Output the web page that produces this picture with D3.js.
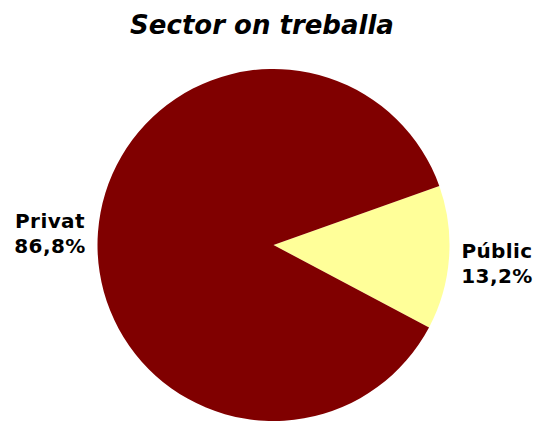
<!DOCTYPE html>
<html>
<head>
<meta charset="utf-8">
<script src="https://cdn.jsdelivr.net/npm/d3@7"></script>
<style>
  html, body { margin: 0; padding: 0; background: #fff; }
  svg { display: block; }
</style>
</head>
<body>
<svg id="chart" width="539" height="421"></svg>
<script>
// Sector where people work (percent)
const categories = ["Públic", "Privat"];
const values = [13.2, 86.8];
const colors = ["#FFFF99", "#800000"];

const svg = d3.select("#chart");
const cx = 273.5, cy = 245, r = 176;

svg.append("text")
  .attr("x", 262).attr("y", 34)
  .attr("text-anchor", "middle")
  .attr("font-family", "DejaVu Sans")
  .attr("font-weight", "bold")
  .attr("font-style", "italic")
  .attr("font-size", 26)
  .text("Sector on treballa");

const startDeg = 70.4;
const pie = d3.pie().sort(null).value(d => d.v)
  .startAngle(startDeg * Math.PI / 180)
  .endAngle((startDeg + 360) * Math.PI / 180);
const data = categories.map((c, i) => ({ c, v: values[i], col: colors[i] }));
const arcs = pie(data);
const arc = d3.arc().innerRadius(0).outerRadius(r);

const g = svg.append("g").attr("transform", `translate(${cx},${cy})`);
g.selectAll("path").data(arcs).join("path")
  .attr("d", arc)
  .attr("fill", d => d.data.col);

// Labels outside the pie
const labelPos = { "Públic": [497, 258], "Privat": [50, 228] };
const fmt = v => v.toFixed(1).replace(".", ",") + "%";
arcs.forEach(a => {
  const [x, y] = labelPos[a.data.c];
  const t = svg.append("text")
    .attr("text-anchor", "middle")
    .attr("font-family", "DejaVu Sans")
    .attr("font-weight", "bold")
    .attr("font-size", 20)
    .attr("letter-spacing", 0.4);
  t.append("tspan").attr("x", x).attr("y", y).text(a.data.c);
  t.append("tspan").attr("x", x).attr("dy", 24.5).text(fmt(a.data.v));
});
</script>
</body>
</html>
